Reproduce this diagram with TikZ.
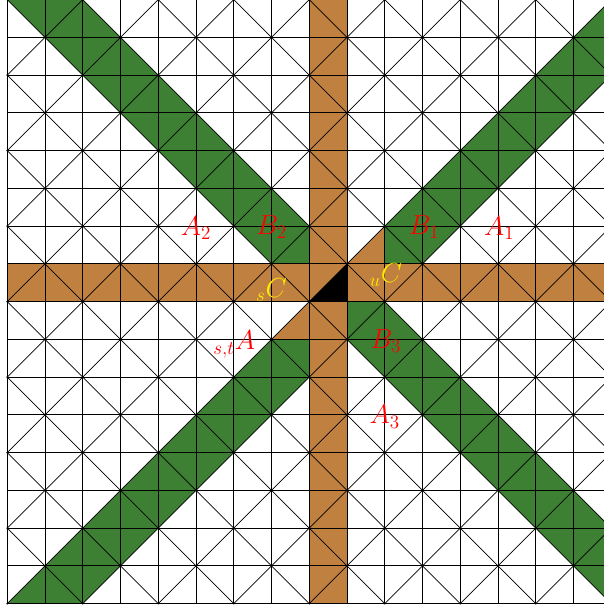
\documentclass[tikz,border=0pt]{standalone}
\definecolor{bandgreen}{RGB}{61,128,52}
\definecolor{stripeorange}{RGB}{191,128,64}
\definecolor{labelyellow}{RGB}{255,235,0}
\begin{document}
\begin{tikzpicture}[x=1cm,y=-1cm,
  gridline/.style={line width=0.55pt,black},
  vertexdot/.style={fill=black},
  lbl/.style={anchor=base,inner sep=0pt,font=\huge},
  redlbl/.style={lbl,text=red},
  yellbl/.style={lbl,text=labelyellow}]
\useasboundingbox (-0.1934,0.0106) rectangle (15.807,16.117);
\clip (-0.1934,0.0106) rectangle (15.807,16.117);
\fill[white] (-0.1934,0.0106) rectangle (15.807,16.117);
% green diagonal bands
\fill[bandgreen] (0,0) -- (2,0) -- (16,14) -- (16,16) -- cycle;
\fill[bandgreen] (16,0) -- (16,2) -- (2,16) -- (0,16) -- cycle;
% orange stripes
\fill[stripeorange] (8,0) rectangle (9,16);
\fill[stripeorange] (0,7) rectangle (16,8);
\fill[stripeorange] (10,6) -- (10,7) -- (9,7) -- cycle;
\fill[stripeorange] (8,8) -- (8,9) -- (7,9) -- cycle;
% black triangle
\fill[black] (9,7) -- (9,8) -- (8,8) -- cycle;
% grid
\draw[gridline] (0,0) grid (16,16);
\foreach \k in {0,2,...,14} \draw[gridline] (\k,0) -- (16,{16-\k});
\foreach \k in {2,4,...,14} \draw[gridline] (0,\k) -- ({16-\k},16);
\foreach \k in {2,4,...,16} \draw[gridline] (\k,0) -- (0,\k);
\foreach \k in {2,4,...,14} \draw[gridline] (16,\k) -- (\k,16);
\foreach \i in {0,2,...,16} \foreach \j in {0,2,...,16} {
  \fill[vertexdot] (\i,\j) circle (0.8pt);
  \fill[vertexdot] ({\i+1},{\j+1}) circle (0.8pt);
}
% labels
\node[redlbl] (a2) at (5.0,6.24) {$A_2$};
\node[redlbl] (b2) at (7.0,6.22) {$B_2$};
\node[redlbl] (b1) at (11.04,6.22) {$B_1$};
\node[redlbl] (a1) at (13.03,6.24) {$A_1$};
\node[yellbl] (sc) at (7.0,7.9) {${}_{s}C$};
\node[yellbl] (uc) at (10.03,7.5) {${}_{u}C$};
\node[redlbl] (sta) at (6.01,9.28) {${}_{s,t}A$};
\node[redlbl] (b3) at (10.03,9.23) {$B_3$};
\node[redlbl] (a3) at (10.0,11.24) {$A_3$};
\end{tikzpicture}
\end{document}
